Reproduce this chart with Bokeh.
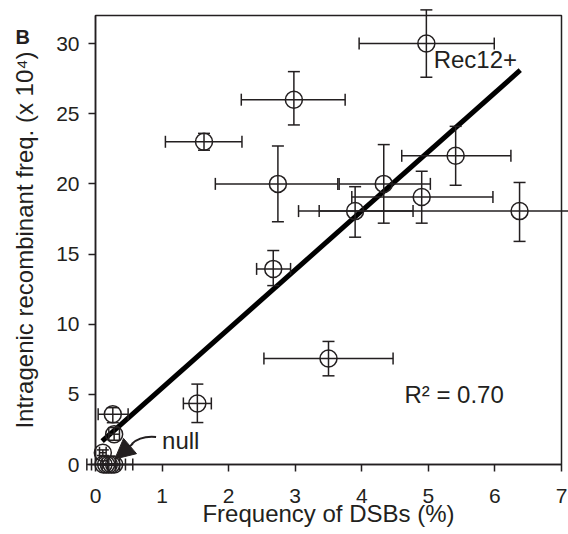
import math
from bokeh.plotting import figure
from bokeh.models import ColumnDataSource, Label, Arrow, NormalHead, Range1d
from bokeh.core.properties import value
from bokeh.embed import file_html
from bokeh.resources import INLINE

# ---- data ----
dsb    = [4.97, 2.98, 1.63, 2.74, 4.33, 4.90, 3.90, 6.37, 5.41, 2.67, 3.50, 1.53,
          0.26, 0.28, 0.11, 0.12, 0.16, 0.20, 0.24, 0.28]
dsb_lo = [3.96, 2.19, 1.05, 1.80, 3.66, 3.85, 3.05, 3.36, 4.60, 2.42, 2.53, 1.32,
          0.04, 0.20, 0.06, -0.06, 0.10, -0.13, 0.18, 0.20]
dsb_hi = [5.99, 3.75, 2.20, 3.64, 5.03, 5.97, 4.77, 9.38, 6.24, 2.93, 4.47, 1.74,
          0.49, 0.36, 0.16, 0.30, 0.45, 0.56, 0.30, 0.36]
rec    = [30.0, 26.0, 23.0, 20.0, 20.0, 19.06, 18.06, 18.06, 22.0, 13.94, 7.56, 4.35,
          3.58, 2.16, 0.84, 0.0, 0.0, 0.0, 0.0, 0.0]
rec_lo = [27.6, 24.2, 22.4, 17.3, 17.2, 17.2, 16.2, 15.9, 19.9, 12.75, 6.32, 2.99,
          2.98, 1.73, 0.64, 0.0, 0.0, 0.0, 0.0, 0.0]
rec_hi = [32.4, 28.0, 23.6, 22.7, 22.8, 20.9, 19.8, 20.1, 24.1, 15.25, 8.77, 5.73,
          4.05, 2.63, 1.04, 0.0, 0.0, 0.0, 0.0, 0.0]

fit_x = [0.10, 6.38]
fit_y = [1.66, 28.10]

x_ticks = [0, 1, 2, 3, 4, 5, 6, 7]
y_ticks = [0, 5, 10, 15, 20, 25, 30]

INK = "#231f20"
FONT = "Liberation Sans"

src = ColumnDataSource(dict(dsb=dsb, dsb_lo=dsb_lo, dsb_hi=dsb_hi,
                            rec=rec, rec_lo=rec_lo, rec_hi=rec_hi))

p = figure(width=568, height=534, x_range=Range1d(0, 7), y_range=Range1d(0, 32),
           output_backend="svg", toolbar_location=None,
           min_border_left=95, min_border_right=7, min_border_top=15,
           min_border_bottom=70)

p.xgrid.visible = False
p.ygrid.visible = False
p.outline_line_color = INK
p.outline_line_width = 1.5
p.outline_line_alpha = 1.0
p.background_fill_color = "white"

for ax in (p.xaxis[0], p.yaxis[0]):
    ax.axis_line_color = INK
    ax.axis_line_width = 1.5
    ax.major_tick_line_color = INK
    ax.major_tick_line_width = 1.5
    ax.major_tick_in = 0
    ax.major_tick_out = 7
    ax.minor_tick_line_color = None
    ax.major_label_text_font = FONT
    ax.major_label_text_font_size = "21px"
    ax.major_label_text_color = INK
    ax.axis_label_text_font = FONT
    ax.axis_label_text_font_size = "24px"
    ax.axis_label_text_font_style = "normal"
    ax.axis_label_text_color = INK

p.xaxis.ticker = x_ticks
p.yaxis.ticker = y_ticks
p.xaxis.axis_label = "Frequency of DSBs (%)"
p.yaxis.axis_label = "Intragenic recombinant freq. (x 10\u2074)"
p.xaxis.major_label_standoff = 17
p.xaxis.axis_label_standoff = -6
p.yaxis.major_label_standoff = 9
p.yaxis.axis_label_standoff = 15

renderers = []

# error bars (glyphs, drawn unclipped like the original)
renderers.append(p.segment(x0="dsb", y0="rec_lo", x1="dsb", y1="rec_hi", source=src,
                           line_color=INK, line_width=1.5))
renderers.append(p.segment(x0="dsb_lo", y0="rec", x1="dsb_hi", y1="rec", source=src,
                           line_color=INK, line_width=1.5))
for ycol in ("rec_lo", "rec_hi"):
    renderers.append(p.scatter("dsb", ycol, source=src, marker="dash", size=12,
                               line_color=INK, line_width=1.5))
for xcol in ("dsb_lo", "dsb_hi"):
    renderers.append(p.scatter(xcol, "rec", source=src, marker="dash", size=12,
                               angle=math.pi / 2, line_color=INK, line_width=1.5))

# regression line
p.line(fit_x, fit_y, line_color="black", line_width=5)

# points
renderers.append(p.scatter("dsb", "rec", source=src, marker="circle", size=17,
                           fill_color=None, line_color=INK, line_width=1.5))

# panel letter
renderers.append(p.text(x=[-1.2], y=[30.5], text=["B"], text_font=value(FONT),
                        text_font_size="20px", text_font_style="bold",
                        text_color=INK, text_baseline="alphabetic"))

for r in renderers:
    r.level = "overlay"

# annotations
p.add_layout(Label(x=5.08, y=27.9, text="Rec12+", text_font=FONT,
                   text_font_size="24px", text_color=INK))
p.add_layout(Label(x=4.64, y=4.04, text="R\u00b2 = 0.70", text_font=FONT,
                   text_font_size="24px", text_color=INK))
p.add_layout(Label(x=1.0, y=0.75, text="null", text_font=FONT,
                   text_font_size="24px", text_color=INK))

p.bezier(x0=[0.91], y0=[1.96], x1=[0.545], y1=[1.46],
         cx0=[0.72], cy0=[2.04], cx1=[0.62], cy1=[1.82],
         line_color=INK, line_width=2)
p.add_layout(Arrow(x_start=0.56, y_start=1.48, x_end=0.29, y_end=0.39,
                   line_color=INK, line_width=2,
                   end=NormalHead(size=20, fill_color=INK, line_color=INK)))

open("out.html", "w").write(file_html(p, INLINE))
